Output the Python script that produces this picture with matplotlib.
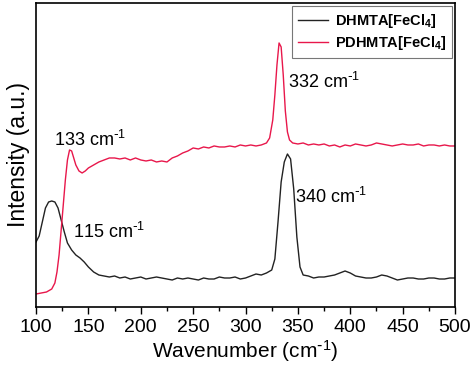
import matplotlib
matplotlib.use('Agg')
import matplotlib.pyplot as plt
from matplotlib.ticker import MultipleLocator

plt.rcParams['font.family'] = ['Liberation Sans', 'DejaVu Sans']
plt.rcParams['mathtext.default'] = 'regular'

# DHMTA[FeCl4] spectrum
wn_dh = [100, 103, 106, 109, 112, 115, 118, 121, 124, 127, 130, 134, 138, 142, 146,
         150, 155, 160, 165, 170, 175, 180, 185, 190, 195, 200, 205, 210, 215, 220,
         225, 230, 235, 240, 245, 250, 255, 260, 265, 270, 275, 280, 285, 290, 295,
         300, 305, 310, 315, 320, 325, 328, 331, 334, 337, 340, 343, 346, 349, 352,
         355, 360, 365, 370, 375, 380, 385, 390, 395, 400, 405, 410, 415, 420, 425,
         430, 435, 440, 445, 450, 455, 460, 465, 470, 475, 480, 485, 490, 495, 500]
int_dh = [65, 71, 85, 99, 105, 106, 105, 99, 87, 75, 64, 57, 52, 49, 45,
          40, 35, 32, 31, 30, 31, 29, 30, 28, 29, 30, 28, 29, 30, 29,
          28, 27, 29, 28, 29, 28, 27, 29, 28, 28, 30, 29, 29, 30, 28,
          29, 31, 33, 32, 34, 37, 48, 85, 125, 145, 153, 148, 118, 70, 40,
          32, 31, 29, 30, 30, 31, 32, 34, 36, 34, 31, 30, 29, 29, 30,
          32, 31, 29, 27, 28, 29, 29, 28, 28, 29, 29, 28, 28, 29, 29]

# PDHMTA[FeCl4] spectrum
wn_pd = [100, 105, 110, 115, 118, 120, 122, 124, 126, 128, 130, 132, 134, 136, 138,
         141, 144, 147, 150, 155, 160, 165, 170, 175, 180, 185, 190, 195, 200, 205,
         210, 215, 220, 225, 230, 235, 240, 245, 250, 255, 260, 265, 270, 275, 280,
         285, 290, 295, 300, 305, 310, 315, 320, 323, 326, 328, 330, 332, 334, 336,
         338, 340, 342, 345, 350, 355, 360, 365, 370, 375, 380, 385, 390, 395, 400,
         405, 410, 415, 420, 425, 430, 435, 440, 445, 450, 455, 460, 465, 470, 475,
         480, 485, 490, 495, 500]
int_pd = [13, 14, 15, 18, 24, 35, 52, 77, 102, 127, 147, 157, 156, 149, 142,
          136, 134, 136, 139, 142, 145, 147, 149, 149, 148, 149, 147, 149, 147, 146,
          147, 145, 146, 145, 149, 151, 154, 156, 159, 158, 160, 159, 161, 160, 160,
          161, 160, 162, 161, 162, 161, 162, 164, 169, 187, 212, 242, 264, 260, 232,
          196, 175, 167, 164, 163, 164, 162, 163, 162, 163, 161, 162, 160, 162, 161,
          163, 162, 161, 162, 164, 163, 162, 161, 162, 163, 162, 162, 163, 161, 162,
          162, 161, 162, 161, 161]

labels = ['DHMTA[FeCl$_4$]', 'PDHMTA[FeCl$_4$]']
colors = ['#222222', '#e8174b']
unit = ' cm$^{\\text{-}1}$'

fig = plt.figure(figsize=(4.74, 3.69), dpi=100)
ax = fig.add_axes([0.076, 0.168, 0.884, 0.824])

ax.plot(wn_dh, int_dh, color=colors[0], lw=1.0, label=labels[0])
ax.plot(wn_pd, int_pd, color=colors[1], lw=1.0, label=labels[1])

ax.text(117, 167, '133' + unit, fontsize=13, va='center', ha='left')
ax.text(340.6, 225, '332' + unit, fontsize=13, va='center', ha='left')
ax.text(347, 110, '340' + unit, fontsize=13, va='center', ha='left')
ax.text(135, 75, '115' + unit, fontsize=13, va='center', ha='left')

ax.set_xlim(100, 500)
ax.set_ylim(0, 304)
ax.xaxis.set_major_locator(MultipleLocator(50))
ax.xaxis.set_minor_locator(MultipleLocator(25))
ax.tick_params(axis='x', which='major', labelsize=14, length=5, width=1)
ax.tick_params(axis='x', which='minor', length=3, width=1)
ax.set_yticks([])
for s in ax.spines.values():
    s.set_linewidth(1.2)

ax.set_xlabel('Wavenumber (cm$^{\\text{-}1}$)', fontsize=15, labelpad=2)
ax.set_ylabel('Intensity (a.u.)', fontsize=16.5, labelpad=4)

leg = ax.legend(loc='upper right', prop={'size': 10.5, 'weight': 'bold'},
                frameon=True, fancybox=False, edgecolor='#555555',
                handlelength=2.1, handletextpad=0.45, borderaxespad=0.2,
                labelspacing=0.3)
leg.get_frame().set_linewidth(0.8)

fig.savefig('out.png', dpi=100)
